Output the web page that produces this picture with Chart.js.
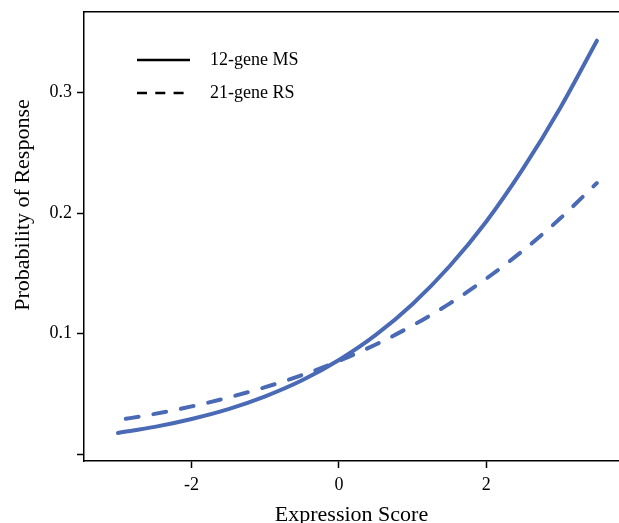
<!DOCTYPE html>
<html>
<head>
<meta charset="utf-8">
<script src="https://cdn.jsdelivr.net/npm/chart.js@4"></script>
<style>
  html, body { margin: 0; padding: 0; overflow: hidden; background: #fff; }
  #chart { display: block; margin-top: -4px; }
</style>
</head>
<body>
<canvas id="chart" width="619" height="532"></canvas>
<script>
// expression score (x) and probability of response
const scores = [-3, -2.5, -2, -1.5, -1, -0.5, 0, 0.5, 1, 1.5, 2, 2.5, 3, 3.5];
const ms12 = [0.0175, 0.0225, 0.0291, 0.0373, 0.0479, 0.0612, 0.078, 0.0988, 0.1245, 0.1558, 0.193, 0.237, 0.287, 0.343];
const rs21 = [0.0281, 0.0333, 0.0395, 0.0469, 0.0555, 0.0655, 0.0773, 0.0909, 0.1067, 0.1248, 0.1456, 0.169, 0.1954, 0.2249];
const seriesNames = ['12-gene MS', '21-gene RS'];
const xTicks = [-2, 0, 2];
const yTicks = [0, 0.1, 0.2, 0.3];
const yTickLabels = ['', '0.1', '0.2', '0.3'];
const yTitle = 'Probability of Response';

const blue = '#4a6ab6';
const serif = 'Liberation Serif, Times New Roman, serif';
const shift = 4; // canvas is pulled up by this much

const pts = (ys) => scores.map((x, i) => ({ x: x, y: ys[i] }));

// top frame line, y title and legend (drawn by hand, R style)
const frame = {
  id: 'frame',
  afterDraw(chart) {
    const c = chart.ctx, a = chart.chartArea;
    c.save();
    c.strokeStyle = '#000';
    c.lineWidth = 1.5;
    c.beginPath();
    c.moveTo(a.left - 0.75, a.top);
    c.lineTo(a.right, a.top);
    c.stroke();

    c.fillStyle = '#000';
    c.textBaseline = 'middle';
    c.textAlign = 'center';
    c.font = '22px ' + serif;
    c.save();
    c.translate(23, 205 + shift);
    c.rotate(-Math.PI / 2);
    c.fillText(yTitle, 0, 0);
    c.restore();

    c.textAlign = 'left';
    c.font = '18px ' + serif;
    const rows = [60, 93];
    rows.forEach((y, i) => {
      y += shift;
      c.lineWidth = 2.5;
      c.setLineDash(i === 0 ? [] : [10, 8.3]);
      c.lineCap = 'butt';
      c.beginPath();
      c.moveTo(137, y);
      c.lineTo(i === 0 ? 190 : 185, y);
      c.stroke();
      c.fillText(seriesNames[i], 210, y);
    });
    c.restore();
  }
};

new Chart(document.getElementById('chart'), {
  type: 'line',
  data: {
    datasets: [{
      label: seriesNames[0],
      data: pts(ms12),
      borderColor: blue,
      borderWidth: 4,
      borderCapStyle: 'round',
      pointRadius: 0,
      cubicInterpolationMode: 'monotone'
    }, {
      label: seriesNames[1],
      data: pts(rs21),
      borderColor: blue,
      borderWidth: 4,
      borderDash: [13, 15],
      borderDashOffset: 20,
      borderCapStyle: 'round',
      pointRadius: 0,
      cubicInterpolationMode: 'monotone'
    }]
  },
  options: {
    responsive: false,
    animation: false,
    layout: { padding: { top: 8, left: 0, right: 0, bottom: 0 } },
    plugins: { legend: { display: false }, tooltip: { enabled: false } },
    scales: {
      x: {
        type: 'linear',
        min: -3.46,
        max: 3.8,
        afterBuildTicks: (s) => { s.ticks = xTicks.map(v => ({ value: v })); },
        afterFit: (s) => { s.height = 67; },
        grid: { drawOnChartArea: false, drawTicks: true, tickLength: 7, color: '#000', tickWidth: 1.5 },
        border: { display: true, color: '#000', width: 1.5 },
        ticks: { color: '#000', font: { family: serif, size: 18 }, padding: 6, maxRotation: 0 },
        title: { display: true, text: 'Expression Score', color: '#000', font: { family: serif, size: 22 }, padding: 0 }
      },
      y: {
        min: -0.0058,
        max: 0.367,
        afterBuildTicks: (s) => { s.ticks = yTicks.map(v => ({ value: v })); },
        afterFit: (s) => { s.width = 84; },
        grid: { drawOnChartArea: false, drawTicks: true, tickLength: 7, color: '#000', tickWidth: 1.5 },
        border: { display: true, color: '#000', width: 1.5 },
        ticks: {
          color: '#000', font: { family: serif, size: 18 }, padding: 5,
          callback: (v) => yTickLabels[yTicks.indexOf(v)] ?? ''
        },
        title: { display: false }
      }
    }
  },
  plugins: [frame]
});
</script>
</body>
</html>
